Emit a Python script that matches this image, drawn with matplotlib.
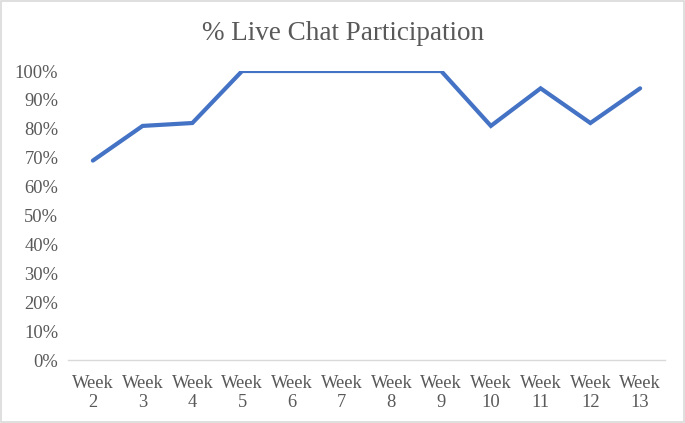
import matplotlib
matplotlib.use("Agg")
from matplotlib import pyplot as plt
from matplotlib.patches import Rectangle

weeks = ["Week\n2", "Week\n3", "Week\n4", "Week\n5", "Week\n6", "Week\n7",
         "Week\n8", "Week\n9", "Week\n10", "Week\n11", "Week\n12", "Week\n13"]
participation = [0.69, 0.81, 0.82, 1.00, 1.00, 1.00, 1.00, 1.00, 0.81, 0.94, 0.82, 0.94]
y_ticks = [0.0, 0.1, 0.2, 0.3, 0.4, 0.5, 0.6, 0.7, 0.8, 0.9, 1.0]

plt.rcParams["font.family"] = ["Liberation Serif", "DejaVu Serif"]
grey = "#595959"

fig = plt.figure(figsize=(6.85, 4.23), dpi=100)
ax = fig.add_axes([68 / 685, 1 - 360 / 423, 597 / 685, 289 / 423])

x = range(len(weeks))
ax.plot(x, participation, color="#4472C4", linewidth=3.0,
        solid_capstyle="round", solid_joinstyle="miter")

ax.set_xlim(-0.5, len(weeks) - 0.5)
ax.set_ylim(0, 1.0)
ax.set_xticks(list(x))
ax.set_xticklabels(weeks, fontsize=13.3, color=grey, linespacing=1.1)
ax.set_yticks(y_ticks)
ax.set_yticklabels([f"{int(round(v * 100))}%" for v in y_ticks], fontsize=13.3, color=grey)
ax.tick_params(axis="x", length=0, pad=11)
ax.tick_params(axis="y", length=0, pad=7)

for side in ["top", "right", "left"]:
    ax.spines[side].set_visible(False)
ax.spines["bottom"].set_color("#D9D9D9")
ax.spines["bottom"].set_linewidth(1.0)
ax.spines["bottom"].set_zorder(0)

fig.text(0.5, 1 - 34 / 423, "% Live Chat Participation", ha="center", va="center",
         fontsize=19.5, color=grey)

# chart border
fig.patches.append(Rectangle((0.002, 0.003), 0.996, 0.994, transform=fig.transFigure,
                             fill=False, edgecolor="#D9D9D9", linewidth=1.2))

fig.savefig("out.png", dpi=100)
